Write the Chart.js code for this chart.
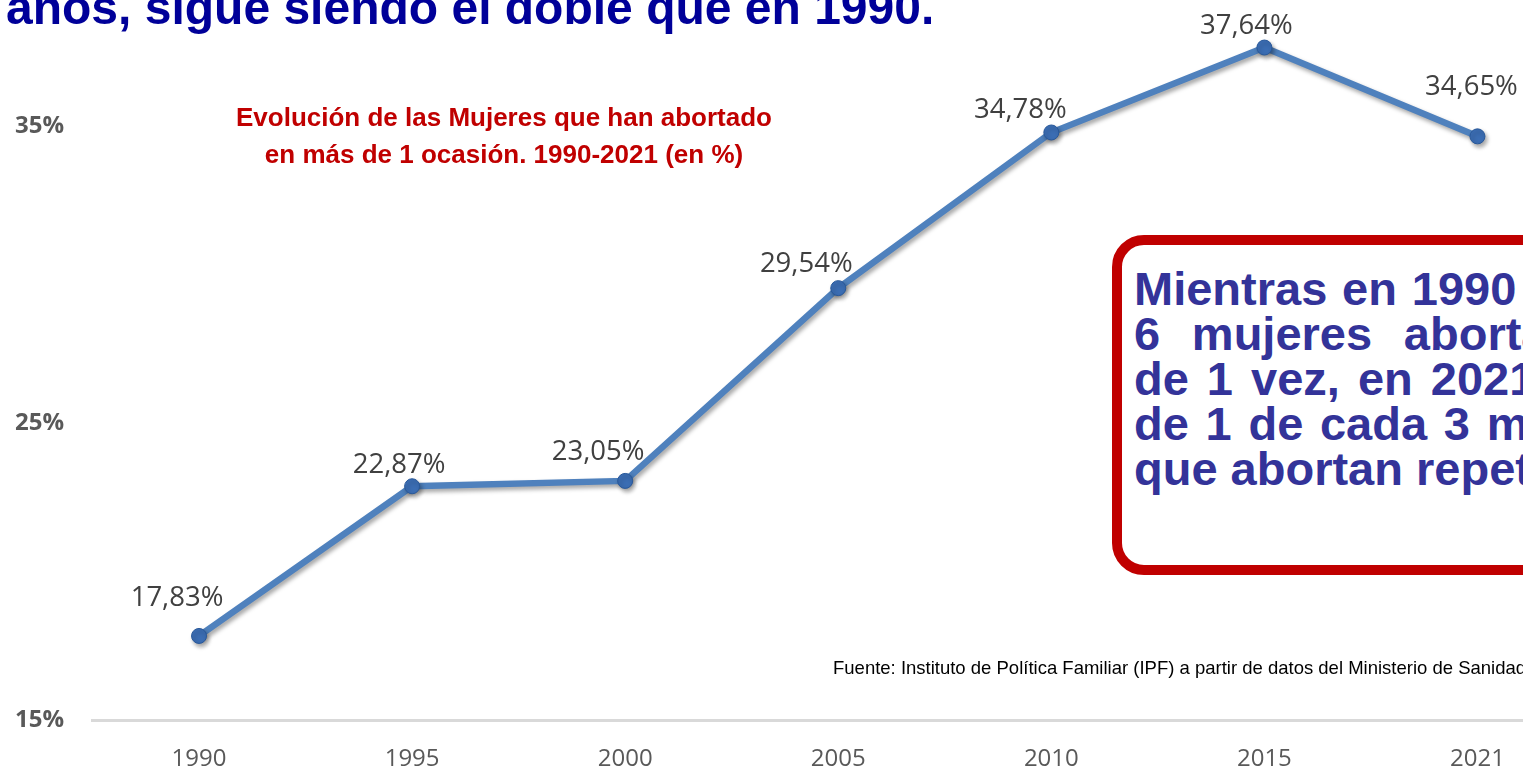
<!DOCTYPE html>
<html>
<head>
<meta charset="utf-8">
<script src="https://cdn.jsdelivr.net/npm/chart.js@4/dist/chart.umd.min.js"></script>
<style>
  html, body { margin: 0; padding: 0; background: #fff; overflow: hidden; width: 1523px; height: 766px; }
  #wrap { position: absolute; left: 0; top: 0; width: 1600px; height: 766px; }
  .txt { position: absolute; font-family: "Liberation Sans", Arial, sans-serif; white-space: nowrap; }
  #title { left: 6px; top: -16px; font-size: 48px; line-height: 48px; font-weight: bold; color: #000099; }
  #subtitle { left: 0; top: 99px; width: 1008px; text-align: center; font-size: 26px; line-height: 37px;
              font-weight: bold; color: #c00000; }
  #box { position: absolute; left: 1112px; top: 235px; width: 700px; height: 320px;
         border: 10px solid #c00000; border-radius: 32px; background: #fff; }
  #boxtext { left: 1134px; top: 266px; font-size: 47px; line-height: 45px; font-weight: bold; color: #333399;
             white-space: normal; }
  #boxtext div { width: 615px; text-align: justify; text-align-last: justify; }
  #boxtext div.last { text-align-last: left; white-space: nowrap; }
  #source { left: 833px; top: 657px; font-size: 18.5px; line-height: 22px; color: #000; }
</style>
</head>
<body>
<div id="wrap"><canvas id="lineChart" width="1600" height="766"></canvas></div>
<div class="txt" id="title">años, sigue siendo el doble que en 1990.</div>
<div class="txt" id="subtitle">Evolución de las Mujeres que han abortado<br>en más de 1 ocasión. 1990-2021 (en %)</div>
<div id="box"></div>
<div class="txt" id="boxtext">
  <div>Mientras en 1990 1 de cada</div>
  <div>6 mujeres abortaron más</div>
  <div>de 1 vez, en 2021 son más</div>
  <div>de 1 de cada 3 mujeres las</div>
  <div class="last">que abortan repetidamente.</div>
</div>
<div class="txt" id="source">Fuente: Instituto de Política Familiar (IPF) a partir de datos del Ministerio de Sanidad</div>

<script>
  const years = ["1990", "1995", "2000", "2005", "2010", "2015", "2021"];
  const repeatPct = [17.83, 22.87, 23.05, 29.54, 34.78, 37.64, 34.65];
  const yTicks = [15, 25, 35];

  // where each value label sits relative to its point (px)
  const labelDx = [-22, -13, -27, -32, -31, -18, -6];
  const labelDy = [-38, -21, -29, -24, -22, -21, -49];

  const shadow = {
    id: "shadow",
    beforeDatasetsDraw(chart) {
      const ctx = chart.ctx;
      ctx.save();
      ctx.shadowColor = "rgba(0,0,0,0.35)";
      ctx.shadowBlur = 4;
      ctx.shadowOffsetX = 2;
      ctx.shadowOffsetY = 3;
    },
    afterDatasetsDraw(chart) {
      chart.ctx.restore();
    },
  };

  const valueLabels = {
    id: "valueLabels",
    afterDraw(chart) {
      const ctx = chart.ctx;
      const meta = chart.getDatasetMeta(0);
      ctx.save();
      ctx.font = "27.5px 'Open Sans'";
      ctx.fillStyle = "#404040";
      ctx.textAlign = "center";
      ctx.textBaseline = "middle";
      meta.data.forEach((pt, i) => {
        const txt = repeatPct[i].toFixed(2).replace(".", ",") + "%";
        ctx.fillText(txt, pt.x + labelDx[i], pt.y + labelDy[i]);
      });
      ctx.restore();
    },
  };

  const ctx = document.getElementById("lineChart").getContext("2d");

  const lineChart = new Chart(ctx, {
    type: "line",
    data: {
      labels: years,
      datasets: [
        {
          data: repeatPct,
          borderColor: "#4f81bd",
          borderWidth: 6.5,
          tension: 0,
          pointRadius: 7.5,
          pointBackgroundColor: "#3b6db3",
          pointBorderColor: "#28589a",
          pointBorderWidth: 1,
        },
      ],
    },
    options: {
      responsive: false,
      animation: false,
      layout: { padding: { left: 15, right: 16, top: 22, bottom: 0 } },
      plugins: { legend: { display: false }, tooltip: { enabled: false } },
      scales: {
        x: {
          offset: true,
          grid: { display: false },
          border: { color: "#d9d9d9", width: 3 },
          ticks: { color: "#595959", font: { family: "'Open Sans'", size: 24 }, padding: 17 },
          afterFit(scale) { scale.height = 46; },
        },
        y: {
          min: 15,
          max: 38.5,
          grid: { display: false },
          border: { display: false },
          afterBuildTicks(scale) { scale.ticks = yTicks.map((v) => ({ value: v })); },
          afterFit(scale) { scale.width = 77.5; },
          ticks: {
            crossAlign: "far",
            color: "#595959",
            font: { family: "'Open Sans'", size: 24, weight: "bold" },
            callback: (v) => v + "%",
          },
        },
      },
    },
    plugins: [shadow, valueLabels],
  });
</script>
</body>
</html>
